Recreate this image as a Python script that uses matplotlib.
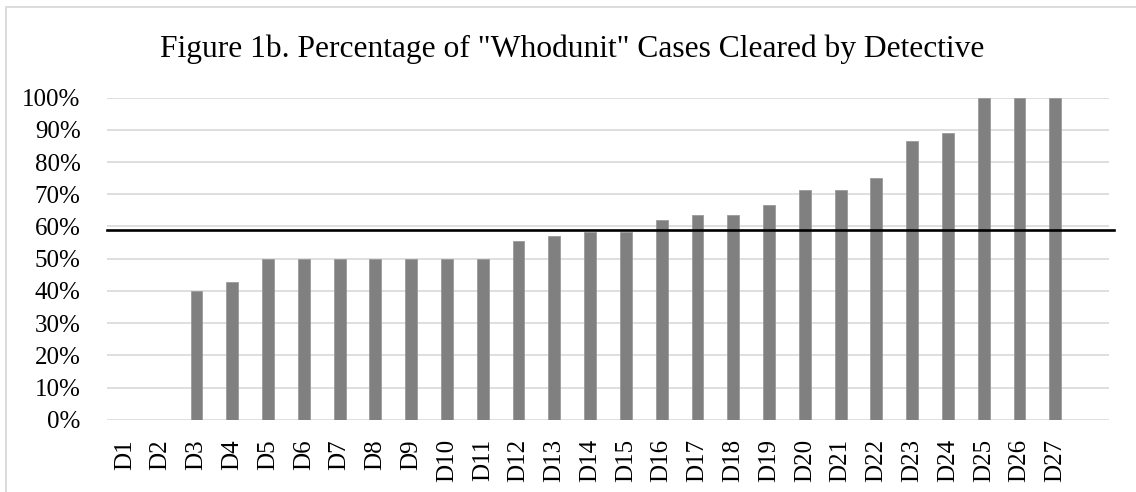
import matplotlib
matplotlib.use('Agg')
import matplotlib.pyplot as plt
from matplotlib.patches import Rectangle
from matplotlib.ticker import PercentFormatter

TITLE = 'Figure 1b. Percentage of "Whodunit" Cases Cleared by Detective'
DETECTIVES = ['D%d' % i for i in range(1, 28)]
CLEARED = [0, 0, 40, 42.9, 50, 50, 50, 50, 50, 50, 50, 55.6, 57.1, 58.3,
           58.3, 62.0, 63.6, 63.6, 66.7, 71.4, 71.4, 75.0, 86.7, 88.9,
           100, 100, 100]
AVERAGE = 58.9
Y_TICKS = list(range(0, 101, 10))

plt.rcParams['font.family'] = ['Liberation Serif', 'DejaVu Serif']

fig = plt.figure(figsize=(11.36, 4.92), dpi=100)
ax = fig.add_axes([107 / 1136, 72.3 / 492, 1002 / 1136, 322 / 492])

x = list(range(len(DETECTIVES)))
ax.bar(x, CLEARED, width=0.33, color='#808080', edgecolor='#9a9a9a',
       linewidth=0.6, zorder=3)

# average line runs a little past the plot area
ax.axhline(AVERAGE, xmin=0, xmax=1.005, color='black', linewidth=1.9,
           clip_on=False, zorder=4)

ax.set_xlim(-0.5, len(DETECTIVES) + 0.5)
ax.set_ylim(0, 100)
ax.set_yticks(Y_TICKS)
ax.yaxis.set_major_formatter(PercentFormatter(decimals=0))
ax.set_xticks(x)
ax.set_xticklabels(DETECTIVES, rotation=90, va='top')
ax.tick_params(axis='both', length=0, labelsize=18)
ax.tick_params(axis='x', pad=14)
ax.tick_params(axis='y', pad=19)
ax.grid(axis='y', color='#dcdcdc', linewidth=1.3, zorder=0)
for s in ax.spines.values():
    s.set_visible(False)

fig.text(0.504, 1 - 57 / 492, TITLE, ha='center', va='baseline', fontsize=22.7)

# chart border
fig.patches.append(Rectangle((6 / 1136, -0.1), 1.2, 1.1 - 7 / 492,
                             transform=fig.transFigure, fill=False,
                             edgecolor='#d9d9d9', linewidth=1.3))

fig.savefig('out.png', dpi=100)
